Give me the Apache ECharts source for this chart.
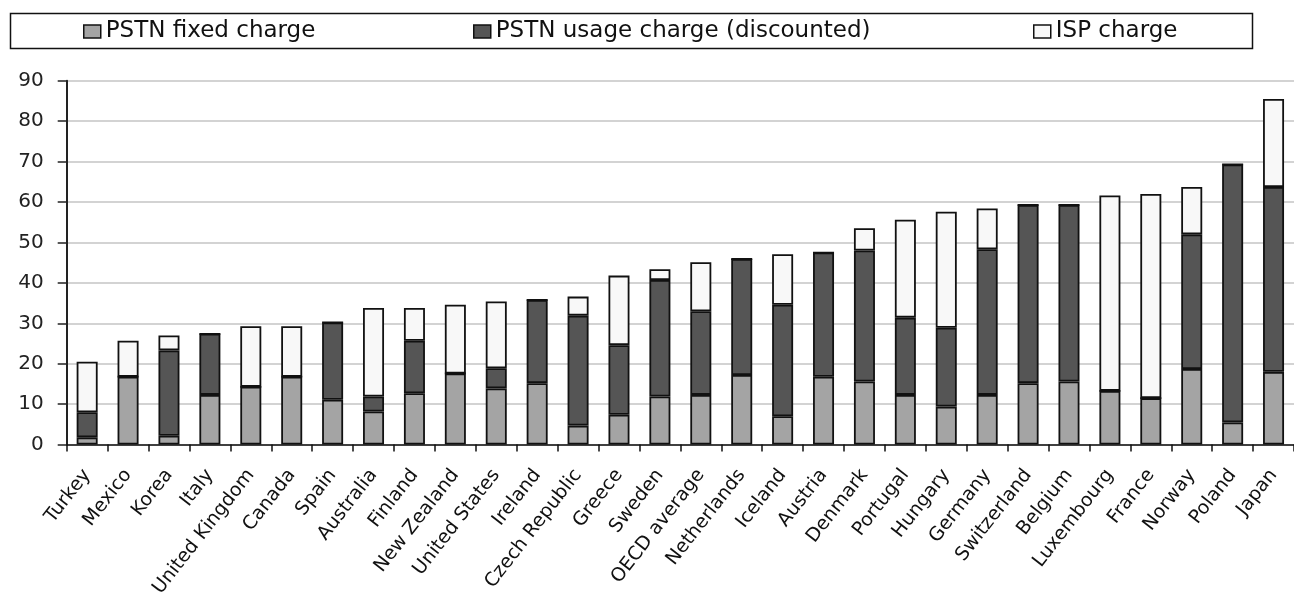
<!DOCTYPE html>
<html>
<head>
<meta charset="utf-8">
<script src="https://cdn.jsdelivr.net/npm/echarts@6/dist/echarts.min.js"></script>
<style>html,body{margin:0;padding:0;background:#fff;}#c{width:1294px;height:600px;}</style>
</head>
<body>
<div id="c"></div>
<script>
const categories = ["Turkey","Mexico","Korea","Italy","United Kingdom","Canada","Spain","Australia","Finland","New Zealand","United States","Ireland","Czech Republic","Greece","Sweden","OECD average","Netherlands","Iceland","Austria","Denmark","Portugal","Hungary","Germany","Switzerland","Belgium","Luxembourg","France","Norway","Poland","Japan"];
const pstnFixed = [1.8,16.8,2.2,12.3,14.3,16.8,11.1,8.2,12.7,17.6,13.9,15.2,4.7,7.4,11.9,12.3,17.2,7.0,16.8,15.6,12.3,9.4,12.3,15.2,15.6,13.3,11.5,18.7,5.5,18.0];
const pstnUsage = [6.2,0,21.1,15.1,0,0,19.1,3.7,13.0,0,5.0,20.6,27.2,17.2,28.8,20.7,28.7,27.6,30.7,32.4,19.1,19.5,36.0,44.1,43.7,0,0,33.3,63.8,45.7];
const ispCharge = [12.5,8.9,3.7,0,15.0,12.5,0,21.9,8.1,17.0,16.5,0,4.7,17.2,2.7,12.1,0,12.5,0,5.5,24.2,28.7,10.1,0,0,48.3,50.5,11.7,0,21.8];
const seriesNames = ["PSTN fixed charge","PSTN usage charge (discounted)","ISP charge"];
const yTicks = {min:0, max:90, interval:10};

const FONT = "DejaVu Sans";
const colors = ["#a4a4a4","#555555","#f8f8f8"];
const chart = echarts.init(document.getElementById('c'));
const legendLefts = [83, 473, 1033];
const dataSets = [pstnFixed, pstnUsage, ispCharge];

chart.setOption({
  backgroundColor:'#ffffff',
  animation:false,
  graphic:[{type:'rect', shape:{x:10.5,y:13.5,width:1242,height:35}, style:{fill:'none',stroke:'#111',lineWidth:1.5}, z:100}],
  legend: seriesNames.map((n,i)=>({
    data:[n], left:legendLefts[i], top:20, padding:0, icon:'rect',
    itemWidth:17, itemHeight:13, itemGap:0,
    itemStyle:{borderColor:'#111',borderWidth:1.5},
    textStyle:{fontFamily:FONT,fontSize:23,color:'#111'}
  })),
  grid:{left:66.7, right:-9, top:80.7, bottom:153.3},
  xAxis:{
    type:'category', data:categories, boundaryGap:true,
    axisLine:{lineStyle:{color:'#111',width:1.5}},
    axisTick:{show:true,length:7,lineStyle:{color:'#111',width:1.5}},
    axisLabel:{rotate:52, interval:0, margin:27, fontFamily:FONT, fontSize:19, color:'#111'}
  },
  yAxis:{
    type:'value', min:yTicks.min, max:yTicks.max, interval:yTicks.interval,
    axisLine:{show:true,lineStyle:{color:'#222',width:2}},
    axisTick:{show:true,length:9,lineStyle:{color:'#222',width:1.5}},
    axisLabel:{margin:23, fontFamily:FONT, fontSize:20, color:'#222'},
    splitLine:{lineStyle:{color:'#c4c4c4',width:1.5}}
  },
  series: seriesNames.map((n,i)=>({
    name:n, type:'bar', stack:'total', data:dataSets[i], barWidth:21,
    itemStyle:{color:colors[i], borderColor:'#111', borderWidth:1.8}
  }))
});
</script>
</body>
</html>
